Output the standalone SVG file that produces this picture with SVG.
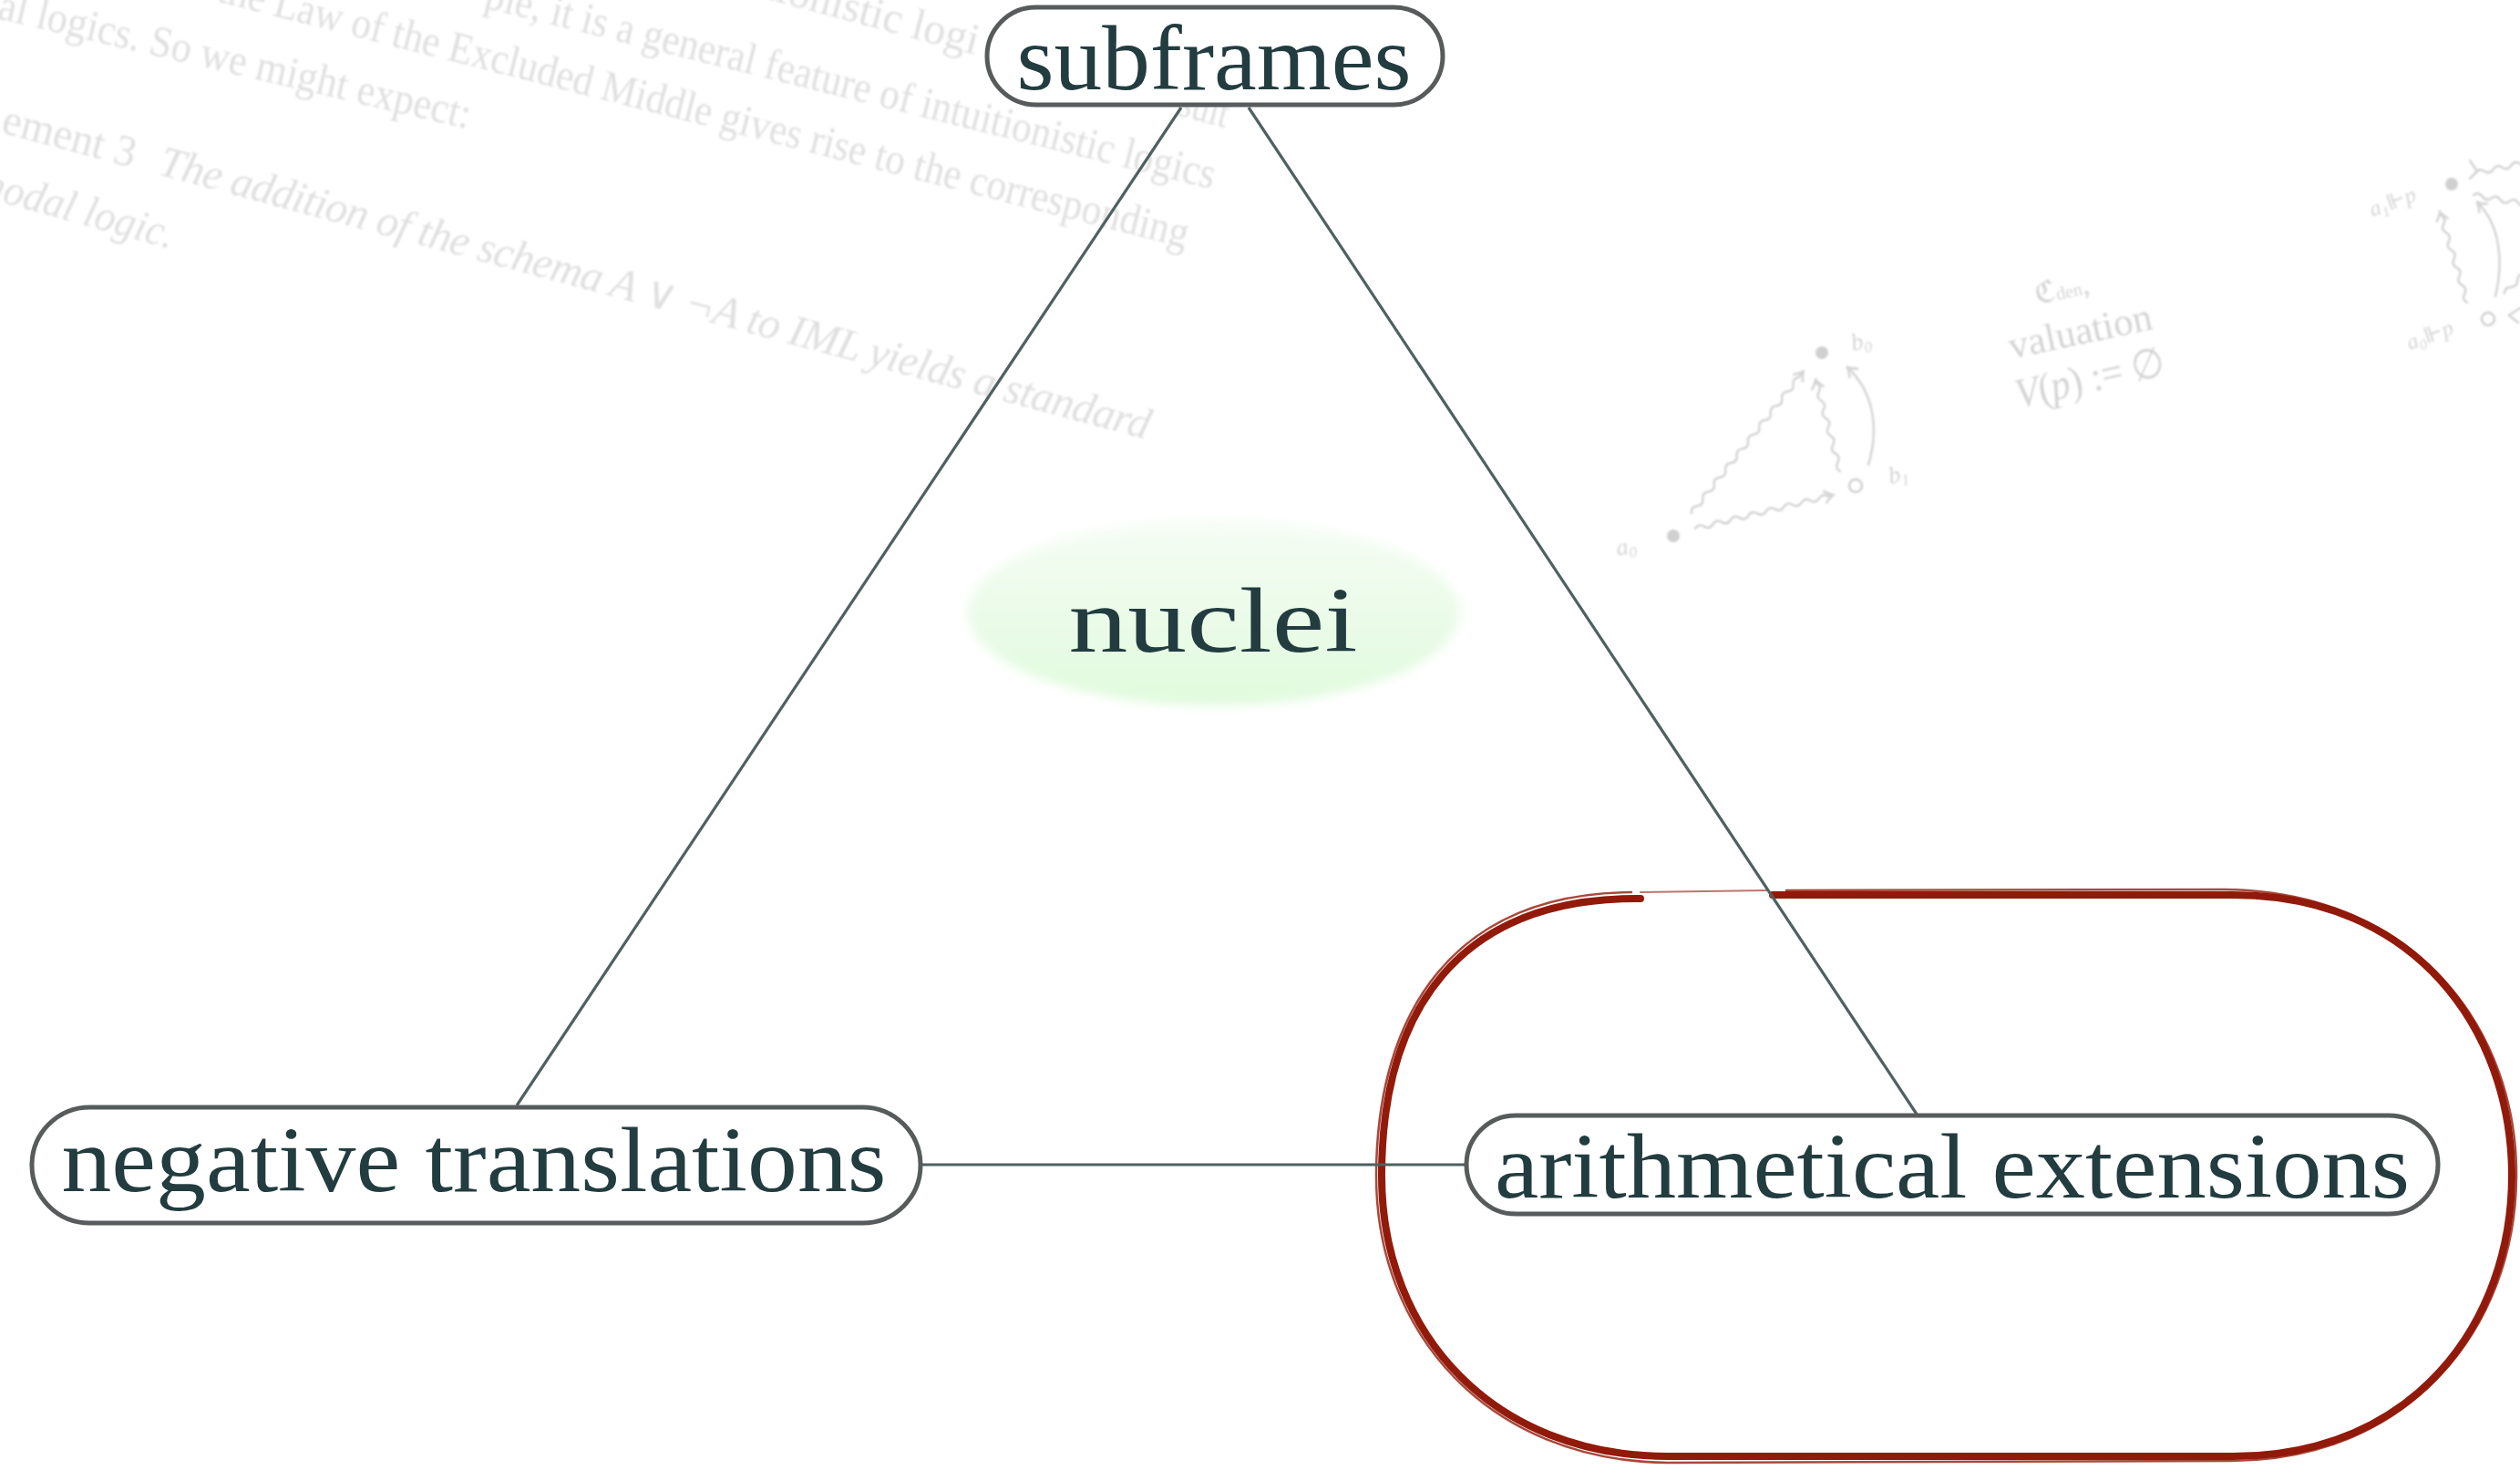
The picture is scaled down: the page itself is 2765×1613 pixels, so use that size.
<svg xmlns="http://www.w3.org/2000/svg" width="2765" height="1613" viewBox="0 0 2765 1613">
<style>
.bg{font-family:"Liberation Serif","DejaVu Serif",serif;font-size:48px;fill:#e0e0e0}
.fig{font-family:"Liberation Serif","DejaVu Serif",serif;fill:#d4d4d4}
.wave{fill:none;stroke:#d4d4d4;stroke-width:2.5;stroke-linecap:round}
.box{fill:#ffffff;stroke:#575b5b;stroke-width:5}
.lbl{font-family:"Liberation Serif","Times New Roman",serif;font-size:101px;fill:#223c3f}
.edge{stroke:#4f6061;stroke-width:3.2;fill:none}
.red{fill:none;stroke:#921a0a;stroke-linejoin:round;stroke-linecap:round}
</style>
<defs>
<filter id="soft" x="-5%" y="-5%" width="110%" height="110%"><feGaussianBlur stdDeviation="1.3"/></filter>
<filter id="glow" x="-20%" y="-40%" width="140%" height="180%"><feGaussianBlur stdDeviation="6"/></filter>
<linearGradient id="ng" x1="0" y1="0" x2="0" y2="1">
<stop offset="0" stop-color="#f6fdf5"/>
<stop offset="1" stop-color="#e0fadd"/>
</linearGradient>
<marker id="tip" viewBox="-12 -8 14 16" markerWidth="14" markerHeight="16" refX="0" refY="0" orient="auto" markerUnits="userSpaceOnUse">
<path d="M-10,-7 Q-3,-1 0,0 Q-3,1 -10,7" fill="none" stroke="#d4d4d4" stroke-width="2.5"/>
</marker>
</defs>
<rect width="2765" height="1613" fill="#ffffff"/>

<g id="background" filter="url(#soft)">
<g class="bg">
<text transform="translate(1070,60) rotate(15)" text-anchor="end">intuitionistic logi</text>
<text transform="translate(1291,126) rotate(15)" textLength="55" lengthAdjust="spacingAndGlyphs">sult</text>
<text transform="translate(530,8) rotate(14)" textLength="824" lengthAdjust="spacingAndGlyphs">ple, it is a general feature of intuitionistic logics</text>
<text transform="translate(237,1) rotate(14.3)" textLength="1097" lengthAdjust="spacingAndGlyphs">the Law of the Excluded Middle gives rise to the corresponding</text>
<text transform="translate(-4,20) rotate(13.2)" textLength="531" lengthAdjust="spacingAndGlyphs">al logics.  So we might expect:</text>
<g transform="translate(0,145) rotate(15)">
<text x="0" y="0" textLength="150" lengthAdjust="spacingAndGlyphs">ement 3</text>
<text x="178" y="0" font-style="italic" textLength="1124" lengthAdjust="spacing">The addition of the schema A ∨ ¬A to IML yields a standard</text>
</g>
<text transform="translate(-30,213) rotate(15.5)" font-style="italic" textLength="225" lengthAdjust="spacingAndGlyphs">modal logic.</text>
</g>
<g id="kripke1">
<circle cx="1836" cy="588" r="7" fill="#d0d0d0"/>
<circle cx="1999" cy="387" r="7" fill="#d0d0d0"/>
<circle cx="2036" cy="533" r="7" fill="none" stroke="#d0d0d0" stroke-width="2.5"/>
<text class="fig" font-size="26" font-style="italic" transform="translate(1775,610) rotate(-12)">a<tspan font-size="17" dy="5">0</tspan></text>
<text class="fig" font-size="26" font-style="italic" transform="translate(2033,385) rotate(-12)">b<tspan font-size="17" dy="5">0</tspan></text>
<text class="fig" font-size="26" font-style="italic" transform="translate(2074,531) rotate(-12)">b<tspan font-size="17" dy="5">1</tspan></text>
<path class="wave" marker-end="url(#tip)" transform="translate(1860,580) rotate(-13.7)" d="M0,0 q5,-5 10,0 t10,0 t10,0 t10,0 t10,0 t10,0 t10,0 t10,0 t10,0 t10,0 t10,0 t10,0 t10,0 t10,0 t10,0 l6,0"/>
<path class="wave" marker-end="url(#tip)" transform="translate(1856,563) rotate(-51.7)" d="M0,0 q5,-5 10,0 t10,0 t10,0 t10,0 t10,0 t10,0 t10,0 t10,0 t10,0 t10,0 t10,0 t10,0 t10,0 t10,0 t10,0 t10,0 t10,0 t10,0 t10,0 l8,0"/>
<path class="wave" marker-end="url(#tip)" transform="translate(2019,517) rotate(-105)" d="M0,0 q5,-5 10,0 t10,0 t10,0 t10,0 t10,0 t10,0 t10,0 t10,0 t10,0 t10,0 l4,0"/>
<path class="wave" marker-end="url(#tip)" d="M2050,510 C2062,470 2056,430 2027,403"/>
<text class="fig" font-size="34" transform="translate(2235,334) rotate(-12)">ℭ<tspan font-size="20">den</tspan>,</text>
<text class="fig" font-size="43" transform="translate(2207,394) rotate(-12)" textLength="160" lengthAdjust="spacingAndGlyphs">valuation</text>
<text class="fig" font-size="46" transform="translate(2215,448) rotate(-12.8)" textLength="167" lengthAdjust="spacingAndGlyphs"><tspan font-style="italic">V</tspan>(<tspan font-style="italic">p</tspan>) := ∅</text>
</g>
<g id="kripke2">
<circle cx="2690" cy="202" r="7" fill="#d0d0d0"/>
<circle cx="2730" cy="350" r="7" fill="none" stroke="#d0d0d0" stroke-width="2.5"/>
<text class="fig" font-size="24" font-style="italic" transform="translate(2603,238) rotate(-20)">a<tspan font-size="16" dy="5">1</tspan><tspan dy="-5" font-style="normal">⊩</tspan>p</text>
<text class="fig" font-size="24" font-style="italic" transform="translate(2644,384) rotate(-20)">a<tspan font-size="16" dy="5">0</tspan><tspan dy="-5" font-style="normal">⊩</tspan>p</text>
<path class="wave" marker-end="url(#tip)" transform="translate(2707,332) rotate(-106.7)" d="M0,0 q5,-5 10,0 t10,0 t10,0 t10,0 t10,0 t10,0 t10,0 t10,0 t10,0 t10,0 l4,0"/>
<path class="wave" marker-end="url(#tip)" d="M2738,325 C2748,285 2742,245 2718,222"/>
<path class="wave" transform="translate(2716,190) rotate(-12)" d="M0,0 q5,-5 10,0 t10,0 t10,0 t10,0 t10,0 t10,0"/>
<path class="wave" transform="translate(2714,214) rotate(10)" d="M0,0 q5,-5 10,0 t10,0 t10,0 t10,0 t10,0 t10,0"/>
<path class="wave" d="M2710,176 l8,12 l-8,8"/>
<path class="wave" transform="translate(2748,322) rotate(-45)" d="M0,0 q5,-5 10,0 t10,0 t10,0"/>
<path class="wave" d="M2765,338 l-12,8 l10,8"/>
</g>
</g>

<g id="highlight">
<path class="red" stroke-width="8" d="M1945,982 L2450,982 C2650,982 2756,1130 2756,1290 C2756,1450 2650,1598 2450,1598 L1830,1598 C1640,1598 1516,1465 1516,1290 C1516,1110 1600,984 1800,986"/>
<path class="red" stroke-width="2.5" opacity="0.8" d="M1960,977 L2440,976 C2655,978 2763,1135 2761,1292 C2760,1455 2645,1604 2445,1603 L1830,1605 C1632,1603 1509,1462 1510,1288 C1511,1110 1596,980 1790,979"/>
<path class="red" stroke-width="2" opacity="0.6" d="M1800,979 L1940,977"/>
</g>

<g id="nuclei">
<ellipse cx="1332" cy="672" rx="270" ry="102" fill="url(#ng)" filter="url(#glow)"/>
<text x="1331" y="715" text-anchor="middle" class="lbl" font-size="130px" textLength="317" lengthAdjust="spacingAndGlyphs">nuclei</text>
</g>

<g id="connectors">
<line class="edge" x1="1296" y1="118" x2="567" y2="1213"/>
<line class="edge" x1="1370" y1="118" x2="2104" y2="1224"/>
<line class="edge" x1="1012" y1="1278" x2="1609" y2="1278"/>
</g>

<g id="subframes">
<rect class="box" x="1083" y="8" width="500" height="107" rx="53.5"/>
<text class="lbl" x="1332" y="98" text-anchor="middle" textLength="433" lengthAdjust="spacingAndGlyphs">subframes</text>
</g>

<g id="negative-translations">
<rect class="box" x="35" y="1215" width="975" height="127" rx="63.5"/>
<text class="lbl" x="520" y="1307" text-anchor="middle" textLength="905" lengthAdjust="spacingAndGlyphs">negative translations</text>
</g>

<g id="arithmetical-extensions">
<rect class="box" x="1609" y="1224" width="1066" height="108" rx="54"/>
<text class="lbl" x="2142" y="1314" text-anchor="middle" textLength="1004" lengthAdjust="spacingAndGlyphs">arithmetical extensions</text>
</g>
</svg>
